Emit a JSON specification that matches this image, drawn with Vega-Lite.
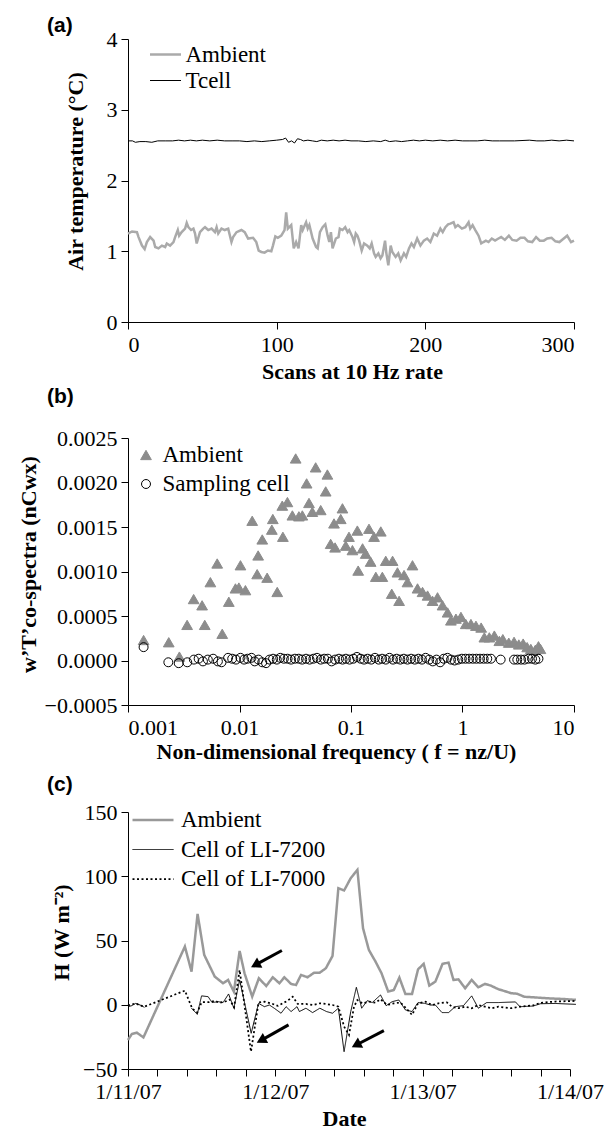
{
  "$schema": "https://vega.github.io/schema/vega-lite/v6.json",
  "padding": {"left": 16, "top": 14, "right": 5, "bottom": 0},
  "spacing": 4,
  "resolve": {
    "scale": {"color": "independent", "strokeWidth": "independent", "strokeDash": "independent", "shape": "independent", "fill": "independent", "stroke": "independent", "size": "independent"},
    "legend": {"color": "independent", "strokeWidth": "independent", "strokeDash": "independent", "shape": "independent", "fill": "independent", "stroke": "independent", "size": "independent"}
  },
  "config": {
    "view": {"stroke": null},
    "font": "Liberation Serif",
    "axis": {
      "grid": false, "domainColor": "#000", "tickColor": "#000", "labelColor": "#000", "titleColor": "#000",
      "labelFont": "Liberation Serif", "labelFontSize": 22, "titleFont": "Liberation Serif", "titleFontSize": 22,
      "titleFontWeight": "bold", "tickSize": 7, "labelPadding": 4, "domainWidth": 1, "tickWidth": 1
    },
    "axisX": {"labelPadding": 5},
    "legend": {"labelFont": "Liberation Serif", "labelFontSize": 23, "labelColor": "#000", "padding": 0},
    "title": {"font": "Liberation Sans", "fontSize": 21, "fontWeight": "bold", "anchor": "start", "color": "#000", "frame": "group"}
  },
  "vconcat": [
    {
      "width": 446, "height": 283,
      "title": {"text": "(a)", "dx": -81, "offset": -7.5},
      "data": {"values": [
        {"scan": 0, "temp": 1.25, "series": "Ambient"}, {"scan": 2.7, "temp": 1.28, "series": "Ambient"}, {"scan": 6, "temp": 1.27, "series": "Ambient"}, {"scan": 7.1, "temp": 1.2, "series": "Ambient"}, {"scan": 9.4, "temp": 1.08, "series": "Ambient"}, {"scan": 11.2, "temp": 1.03, "series": "Ambient"}, {"scan": 12.7, "temp": 1.13, "series": "Ambient"}, {"scan": 14.9, "temp": 1.2, "series": "Ambient"}, {"scan": 17.2, "temp": 1.15, "series": "Ambient"}, {"scan": 18.3, "temp": 1.06, "series": "Ambient"}, {"scan": 20.5, "temp": 1.04, "series": "Ambient"}, {"scan": 22.8, "temp": 1.08, "series": "Ambient"}, {"scan": 25, "temp": 1.06, "series": "Ambient"}, {"scan": 26.1, "temp": 1.11, "series": "Ambient"}, {"scan": 28.3, "temp": 1.08, "series": "Ambient"}, {"scan": 30.6, "temp": 1.13, "series": "Ambient"}, {"scan": 31.7, "temp": 1.2, "series": "Ambient"}, {"scan": 33.5, "temp": 1.3, "series": "Ambient"}, {"scan": 34.4, "temp": 1.22, "series": "Ambient"}, {"scan": 36.1, "temp": 1.27, "series": "Ambient"}, {"scan": 38.4, "temp": 1.32, "series": "Ambient"}, {"scan": 39.5, "temp": 1.4, "series": "Ambient"}, {"scan": 40.6, "temp": 1.34, "series": "Ambient"}, {"scan": 42.4, "temp": 1.3, "series": "Ambient"}, {"scan": 44, "temp": 1.32, "series": "Ambient"}, {"scan": 45.1, "temp": 1.25, "series": "Ambient"}, {"scan": 46.2, "temp": 1.11, "series": "Ambient"}, {"scan": 48.4, "temp": 1.27, "series": "Ambient"}, {"scan": 50.6, "temp": 1.32, "series": "Ambient"}, {"scan": 51.8, "temp": 1.34, "series": "Ambient"}, {"scan": 54, "temp": 1.3, "series": "Ambient"}, {"scan": 56.2, "temp": 1.32, "series": "Ambient"}, {"scan": 58.5, "temp": 1.27, "series": "Ambient"}, {"scan": 59.6, "temp": 1.34, "series": "Ambient"}, {"scan": 60.7, "temp": 1.25, "series": "Ambient"}, {"scan": 62.9, "temp": 1.32, "series": "Ambient"}, {"scan": 65.1, "temp": 1.3, "series": "Ambient"}, {"scan": 67.4, "temp": 1.32, "series": "Ambient"}, {"scan": 69.6, "temp": 1.13, "series": "Ambient"}, {"scan": 70.7, "temp": 1.2, "series": "Ambient"}, {"scan": 73, "temp": 1.27, "series": "Ambient"}, {"scan": 76.3, "temp": 1.3, "series": "Ambient"}, {"scan": 78.5, "temp": 1.27, "series": "Ambient"}, {"scan": 80.8, "temp": 1.18, "series": "Ambient"}, {"scan": 84.1, "temp": 1.19, "series": "Ambient"}, {"scan": 86.3, "temp": 1.13, "series": "Ambient"}, {"scan": 87.9, "temp": 1.01, "series": "Ambient"}, {"scan": 89.7, "temp": 0.99, "series": "Ambient"}, {"scan": 91.9, "temp": 0.98, "series": "Ambient"}, {"scan": 94.1, "temp": 1.01, "series": "Ambient"}, {"scan": 96.4, "temp": 1.0, "series": "Ambient"}, {"scan": 97.5, "temp": 1.08, "series": "Ambient"}, {"scan": 99.1, "temp": 1.21, "series": "Ambient"}, {"scan": 100.8, "temp": 1.19, "series": "Ambient"}, {"scan": 103.1, "temp": 1.22, "series": "Ambient"}, {"scan": 105.3, "temp": 1.3, "series": "Ambient"}, {"scan": 106.4, "temp": 1.55, "series": "Ambient"}, {"scan": 107.5, "temp": 1.32, "series": "Ambient"}, {"scan": 109.8, "temp": 1.37, "series": "Ambient"}, {"scan": 111.5, "temp": 1.04, "series": "Ambient"}, {"scan": 113.1, "temp": 1.13, "series": "Ambient"}, {"scan": 114.7, "temp": 1.04, "series": "Ambient"}, {"scan": 116.5, "temp": 1.37, "series": "Ambient"}, {"scan": 117.5, "temp": 1.3, "series": "Ambient"}, {"scan": 119.8, "temp": 1.41, "series": "Ambient"}, {"scan": 120.9, "temp": 1.32, "series": "Ambient"}, {"scan": 122, "temp": 1.37, "series": "Ambient"}, {"scan": 124.2, "temp": 1.18, "series": "Ambient"}, {"scan": 126.5, "temp": 1.06, "series": "Ambient"}, {"scan": 127.6, "temp": 1.04, "series": "Ambient"}, {"scan": 129.1, "temp": 1.27, "series": "Ambient"}, {"scan": 130.9, "temp": 1.34, "series": "Ambient"}, {"scan": 132.7, "temp": 1.38, "series": "Ambient"}, {"scan": 134.3, "temp": 1.22, "series": "Ambient"}, {"scan": 135.4, "temp": 1.13, "series": "Ambient"}, {"scan": 136.5, "temp": 1.27, "series": "Ambient"}, {"scan": 137.6, "temp": 1.04, "series": "Ambient"}, {"scan": 139.8, "temp": 1.18, "series": "Ambient"}, {"scan": 141.6, "temp": 1.2, "series": "Ambient"}, {"scan": 142.5, "temp": 1.32, "series": "Ambient"}, {"scan": 144.3, "temp": 1.3, "series": "Ambient"}, {"scan": 146.1, "temp": 1.34, "series": "Ambient"}, {"scan": 147.7, "temp": 1.27, "series": "Ambient"}, {"scan": 148.8, "temp": 1.3, "series": "Ambient"}, {"scan": 151, "temp": 1.2, "series": "Ambient"}, {"scan": 152.1, "temp": 1.13, "series": "Ambient"}, {"scan": 153.2, "temp": 1.25, "series": "Ambient"}, {"scan": 154.3, "temp": 1.22, "series": "Ambient"}, {"scan": 155.5, "temp": 1.15, "series": "Ambient"}, {"scan": 157.2, "temp": 1.01, "series": "Ambient"}, {"scan": 158.8, "temp": 1.11, "series": "Ambient"}, {"scan": 161, "temp": 1.08, "series": "Ambient"}, {"scan": 162.6, "temp": 1.04, "series": "Ambient"}, {"scan": 163.9, "temp": 1.11, "series": "Ambient"}, {"scan": 165.5, "temp": 0.97, "series": "Ambient"}, {"scan": 166.6, "temp": 0.92, "series": "Ambient"}, {"scan": 168.4, "temp": 0.97, "series": "Ambient"}, {"scan": 169.9, "temp": 0.9, "series": "Ambient"}, {"scan": 171.1, "temp": 0.94, "series": "Ambient"}, {"scan": 172.9, "temp": 1.15, "series": "Ambient"}, {"scan": 173.8, "temp": 0.97, "series": "Ambient"}, {"scan": 175.1, "temp": 0.8, "series": "Ambient"}, {"scan": 176.7, "temp": 1.08, "series": "Ambient"}, {"scan": 177.8, "temp": 0.99, "series": "Ambient"}, {"scan": 180, "temp": 0.92, "series": "Ambient"}, {"scan": 181.8, "temp": 0.97, "series": "Ambient"}, {"scan": 183.4, "temp": 0.87, "series": "Ambient"}, {"scan": 185.6, "temp": 0.97, "series": "Ambient"}, {"scan": 187.1, "temp": 0.92, "series": "Ambient"}, {"scan": 189, "temp": 1.04, "series": "Ambient"}, {"scan": 190.7, "temp": 1.11, "series": "Ambient"}, {"scan": 192.3, "temp": 1.06, "series": "Ambient"}, {"scan": 194.5, "temp": 1.18, "series": "Ambient"}, {"scan": 196.7, "temp": 1.08, "series": "Ambient"}, {"scan": 199, "temp": 1.15, "series": "Ambient"}, {"scan": 201.2, "temp": 1.18, "series": "Ambient"}, {"scan": 203.4, "temp": 1.13, "series": "Ambient"}, {"scan": 205.7, "temp": 1.25, "series": "Ambient"}, {"scan": 207.9, "temp": 1.22, "series": "Ambient"}, {"scan": 210.1, "temp": 1.32, "series": "Ambient"}, {"scan": 211.7, "temp": 1.27, "series": "Ambient"}, {"scan": 213.5, "temp": 1.34, "series": "Ambient"}, {"scan": 215.3, "temp": 1.38, "series": "Ambient"}, {"scan": 216.8, "temp": 1.39, "series": "Ambient"}, {"scan": 219, "temp": 1.41, "series": "Ambient"}, {"scan": 220.2, "temp": 1.34, "series": "Ambient"}, {"scan": 221.9, "temp": 1.37, "series": "Ambient"}, {"scan": 224.6, "temp": 1.32, "series": "Ambient"}, {"scan": 226.9, "temp": 1.34, "series": "Ambient"}, {"scan": 229.1, "temp": 1.41, "series": "Ambient"}, {"scan": 230.2, "temp": 1.32, "series": "Ambient"}, {"scan": 231.8, "temp": 1.37, "series": "Ambient"}, {"scan": 233.6, "temp": 1.3, "series": "Ambient"}, {"scan": 235.8, "temp": 1.22, "series": "Ambient"}, {"scan": 237.6, "temp": 1.11, "series": "Ambient"}, {"scan": 239.1, "temp": 1.13, "series": "Ambient"}, {"scan": 240.7, "temp": 1.15, "series": "Ambient"}, {"scan": 242.5, "temp": 1.13, "series": "Ambient"}, {"scan": 244.7, "temp": 1.18, "series": "Ambient"}, {"scan": 246.9, "temp": 1.15, "series": "Ambient"}, {"scan": 249.2, "temp": 1.18, "series": "Ambient"}, {"scan": 251, "temp": 1.2, "series": "Ambient"}, {"scan": 253.5, "temp": 1.16, "series": "Ambient"}, {"scan": 256.2, "temp": 1.22, "series": "Ambient"}, {"scan": 258.5, "temp": 1.16, "series": "Ambient"}, {"scan": 261.4, "temp": 1.15, "series": "Ambient"}, {"scan": 264, "temp": 1.19, "series": "Ambient"}, {"scan": 266.7, "temp": 1.19, "series": "Ambient"}, {"scan": 269, "temp": 1.14, "series": "Ambient"}, {"scan": 271.9, "temp": 1.13, "series": "Ambient"}, {"scan": 274.5, "temp": 1.2, "series": "Ambient"}, {"scan": 277, "temp": 1.15, "series": "Ambient"}, {"scan": 279.7, "temp": 1.15, "series": "Ambient"}, {"scan": 282, "temp": 1.18, "series": "Ambient"}, {"scan": 284.9, "temp": 1.19, "series": "Ambient"}, {"scan": 287.5, "temp": 1.14, "series": "Ambient"}, {"scan": 290.2, "temp": 1.13, "series": "Ambient"}, {"scan": 292.5, "temp": 1.17, "series": "Ambient"}, {"scan": 295.4, "temp": 1.22, "series": "Ambient"}, {"scan": 298, "temp": 1.13, "series": "Ambient"}, {"scan": 300, "temp": 1.15, "series": "Ambient"},
        {"scan": 0, "temp": 2.56, "series": "Tcell"}, {"scan": 3, "temp": 2.56, "series": "Tcell"}, {"scan": 5, "temp": 2.54, "series": "Tcell"}, {"scan": 8, "temp": 2.55, "series": "Tcell"}, {"scan": 12, "temp": 2.55, "series": "Tcell"}, {"scan": 16, "temp": 2.54, "series": "Tcell"}, {"scan": 20, "temp": 2.56, "series": "Tcell"}, {"scan": 25, "temp": 2.56, "series": "Tcell"}, {"scan": 30, "temp": 2.56, "series": "Tcell"}, {"scan": 34, "temp": 2.57, "series": "Tcell"}, {"scan": 38, "temp": 2.56, "series": "Tcell"}, {"scan": 42, "temp": 2.57, "series": "Tcell"}, {"scan": 46, "temp": 2.56, "series": "Tcell"}, {"scan": 50, "temp": 2.57, "series": "Tcell"}, {"scan": 55, "temp": 2.56, "series": "Tcell"}, {"scan": 60, "temp": 2.57, "series": "Tcell"}, {"scan": 65, "temp": 2.56, "series": "Tcell"}, {"scan": 70, "temp": 2.56, "series": "Tcell"}, {"scan": 75, "temp": 2.56, "series": "Tcell"}, {"scan": 80, "temp": 2.55, "series": "Tcell"}, {"scan": 85, "temp": 2.56, "series": "Tcell"}, {"scan": 90, "temp": 2.55, "series": "Tcell"}, {"scan": 95, "temp": 2.56, "series": "Tcell"}, {"scan": 100, "temp": 2.57, "series": "Tcell"}, {"scan": 104, "temp": 2.58, "series": "Tcell"}, {"scan": 106, "temp": 2.6, "series": "Tcell"}, {"scan": 108, "temp": 2.54, "series": "Tcell"}, {"scan": 110, "temp": 2.56, "series": "Tcell"}, {"scan": 112, "temp": 2.53, "series": "Tcell"}, {"scan": 114, "temp": 2.59, "series": "Tcell"}, {"scan": 116, "temp": 2.58, "series": "Tcell"}, {"scan": 118, "temp": 2.56, "series": "Tcell"}, {"scan": 121, "temp": 2.57, "series": "Tcell"}, {"scan": 124, "temp": 2.56, "series": "Tcell"}, {"scan": 127, "temp": 2.55, "series": "Tcell"}, {"scan": 130, "temp": 2.57, "series": "Tcell"}, {"scan": 134, "temp": 2.56, "series": "Tcell"}, {"scan": 138, "temp": 2.57, "series": "Tcell"}, {"scan": 142, "temp": 2.56, "series": "Tcell"}, {"scan": 146, "temp": 2.57, "series": "Tcell"}, {"scan": 150, "temp": 2.56, "series": "Tcell"}, {"scan": 155, "temp": 2.56, "series": "Tcell"}, {"scan": 160, "temp": 2.55, "series": "Tcell"}, {"scan": 165, "temp": 2.56, "series": "Tcell"}, {"scan": 170, "temp": 2.55, "series": "Tcell"}, {"scan": 173, "temp": 2.57, "series": "Tcell"}, {"scan": 176, "temp": 2.55, "series": "Tcell"}, {"scan": 180, "temp": 2.56, "series": "Tcell"}, {"scan": 184, "temp": 2.55, "series": "Tcell"}, {"scan": 188, "temp": 2.56, "series": "Tcell"}, {"scan": 192, "temp": 2.57, "series": "Tcell"}, {"scan": 196, "temp": 2.56, "series": "Tcell"}, {"scan": 200, "temp": 2.57, "series": "Tcell"}, {"scan": 205, "temp": 2.56, "series": "Tcell"}, {"scan": 210, "temp": 2.57, "series": "Tcell"}, {"scan": 215, "temp": 2.56, "series": "Tcell"}, {"scan": 220, "temp": 2.57, "series": "Tcell"}, {"scan": 225, "temp": 2.56, "series": "Tcell"}, {"scan": 230, "temp": 2.56, "series": "Tcell"}, {"scan": 235, "temp": 2.56, "series": "Tcell"}, {"scan": 240, "temp": 2.57, "series": "Tcell"}, {"scan": 245, "temp": 2.56, "series": "Tcell"}, {"scan": 250, "temp": 2.56, "series": "Tcell"}, {"scan": 260, "temp": 2.56, "series": "Tcell"}, {"scan": 270, "temp": 2.57, "series": "Tcell"}, {"scan": 275, "temp": 2.56, "series": "Tcell"}, {"scan": 280, "temp": 2.56, "series": "Tcell"}, {"scan": 285, "temp": 2.57, "series": "Tcell"}, {"scan": 290, "temp": 2.56, "series": "Tcell"}, {"scan": 295, "temp": 2.57, "series": "Tcell"}, {"scan": 300, "temp": 2.56, "series": "Tcell"}
      ]},
      "mark": {"type": "line"},
      "encoding": {
        "x": {"field": "scan", "type": "quantitative", "scale": {"domain": [0, 300], "nice": false},
              "axis": {"values": [0, 100, 200, 300], "title": "Scans at 10 Hz rate", "titleX": 224, "titleY": 56, "titleBaseline": "alphabetic"}},
        "y": {"field": "temp", "type": "quantitative", "scale": {"domain": [0, 4], "nice": false},
              "axis": {"values": [0, 1, 2, 3, 4], "title": "Air temperature (°C)", "titleX": -46, "titleY": 132, "titleBaseline": "alphabetic"}},
        "color": {"field": "series", "type": "nominal", "scale": {"domain": ["Ambient", "Tcell"], "range": ["#aaaaaa", "#000000"]},
                  "legend": {"title": null, "orient": "none", "legendX": 20.5, "legendY": 4.5, "symbolSize": 961, "clipHeight": 22, "rowPadding": 3, "labelOffset": 3}},
        "strokeWidth": {"field": "series", "type": "nominal", "scale": {"domain": ["Ambient", "Tcell"], "range": [2.5, 1]},
                  "legend": {"title": null, "orient": "none", "legendX": 20.5, "legendY": 4.5, "symbolSize": 961, "clipHeight": 22, "rowPadding": 3, "labelOffset": 3}}
      }
    },
    {
      "width": 446, "height": 267,
      "title": {"text": "(b)", "dx": -81, "offset": 20},
      "data": {"values": [
        {"f": 0.00138, "cosp": 0.00023, "series": "Ambient"}, {"f": 0.00232, "cosp": 0.000205, "series": "Ambient"}, {"f": 0.00289, "cosp": 0.000044, "series": "Ambient"}, {"f": 0.00339, "cosp": 0.0004, "series": "Ambient"}, {"f": 0.00388, "cosp": 0.00069, "series": "Ambient"}, {"f": 0.00462, "cosp": 0.00062, "series": "Ambient"}, {"f": 0.00488, "cosp": 0.0004, "series": "Ambient"}, {"f": 0.00548, "cosp": 0.00088, "series": "Ambient"}, {"f": 0.00631, "cosp": 0.00109, "series": "Ambient"}, {"f": 0.007, "cosp": 0.0003, "series": "Ambient"}, {"f": 0.00802, "cosp": 0.00066, "series": "Ambient"}, {"f": 0.0092, "cosp": 0.00081, "series": "Ambient"}, {"f": 0.00987, "cosp": 0.00082, "series": "Ambient"}, {"f": 0.0102, "cosp": 0.00107, "series": "Ambient"}, {"f": 0.0113, "cosp": 0.00079, "series": "Ambient"}, {"f": 0.013, "cosp": 0.00157, "series": "Ambient"}, {"f": 0.0144, "cosp": 0.00097, "series": "Ambient"}, {"f": 0.0147, "cosp": 0.00118, "series": "Ambient"}, {"f": 0.016, "cosp": 0.00136, "series": "Ambient"}, {"f": 0.0177, "cosp": 0.00093, "series": "Ambient"}, {"f": 0.0195, "cosp": 0.00147, "series": "Ambient"}, {"f": 0.0199, "cosp": 0.00159, "series": "Ambient"}, {"f": 0.0218, "cosp": 0.00077, "series": "Ambient"}, {"f": 0.0242, "cosp": 0.00174, "series": "Ambient"}, {"f": 0.0245, "cosp": 0.00139, "series": "Ambient"}, {"f": 0.0269, "cosp": 0.00178, "series": "Ambient"}, {"f": 0.0298, "cosp": 0.00163, "series": "Ambient"}, {"f": 0.0319, "cosp": 0.00227, "series": "Ambient"}, {"f": 0.0341, "cosp": 0.00162, "series": "Ambient"}, {"f": 0.0366, "cosp": 0.00163, "series": "Ambient"}, {"f": 0.04, "cosp": 0.00199, "series": "Ambient"}, {"f": 0.042, "cosp": 0.00177, "series": "Ambient"}, {"f": 0.045, "cosp": 0.00167, "series": "Ambient"}, {"f": 0.0482, "cosp": 0.00217, "series": "Ambient"}, {"f": 0.0535, "cosp": 0.00169, "series": "Ambient"}, {"f": 0.0593, "cosp": 0.0019, "series": "Ambient"}, {"f": 0.0614, "cosp": 0.00209, "series": "Ambient"}, {"f": 0.0657, "cosp": 0.00131, "series": "Ambient"}, {"f": 0.0704, "cosp": 0.00154, "series": "Ambient"}, {"f": 0.072, "cosp": 0.00127, "series": "Ambient"}, {"f": 0.0809, "cosp": 0.00159, "series": "Ambient"}, {"f": 0.0838, "cosp": 0.00171, "series": "Ambient"}, {"f": 0.0897, "cosp": 0.00129, "series": "Ambient"}, {"f": 0.0959, "cosp": 0.00139, "series": "Ambient"}, {"f": 0.103, "cosp": 0.00124, "series": "Ambient"}, {"f": 0.114, "cosp": 0.00146, "series": "Ambient"}, {"f": 0.116, "cosp": 0.00101, "series": "Ambient"}, {"f": 0.127, "cosp": 0.00126, "series": "Ambient"}, {"f": 0.1355, "cosp": 0.0012, "series": "Ambient"}, {"f": 0.145, "cosp": 0.00148, "series": "Ambient"}, {"f": 0.15, "cosp": 0.00111, "series": "Ambient"}, {"f": 0.161, "cosp": 0.00139, "series": "Ambient"}, {"f": 0.167, "cosp": 0.00094, "series": "Ambient"}, {"f": 0.185, "cosp": 0.00145, "series": "Ambient"}, {"f": 0.191, "cosp": 0.00094, "series": "Ambient"}, {"f": 0.205, "cosp": 0.00112, "series": "Ambient"}, {"f": 0.232, "cosp": 0.00075, "series": "Ambient"}, {"f": 0.236, "cosp": 0.00112, "series": "Ambient"}, {"f": 0.261, "cosp": 0.00099, "series": "Ambient"}, {"f": 0.27, "cosp": 0.00067, "series": "Ambient"}, {"f": 0.299, "cosp": 0.00096, "series": "Ambient"}, {"f": 0.321, "cosp": 0.00088, "series": "Ambient"}, {"f": 0.356, "cosp": 0.00107, "series": "Ambient"}, {"f": 0.395, "cosp": 0.00081, "series": "Ambient"}, {"f": 0.438, "cosp": 0.00077, "series": "Ambient"}, {"f": 0.486, "cosp": 0.00073, "series": "Ambient"}, {"f": 0.539, "cosp": 0.00067, "series": "Ambient"}, {"f": 0.597, "cosp": 0.00071, "series": "Ambient"}, {"f": 0.662, "cosp": 0.00062, "series": "Ambient"}, {"f": 0.735, "cosp": 0.00054, "series": "Ambient"}, {"f": 0.787, "cosp": 0.00045, "series": "Ambient"}, {"f": 0.873, "cosp": 0.00047, "series": "Ambient"}, {"f": 0.968, "cosp": 0.00049, "series": "Ambient"}, {"f": 1.07, "cosp": 0.00041, "series": "Ambient"}, {"f": 1.19, "cosp": 0.00041, "series": "Ambient"}, {"f": 1.32, "cosp": 0.00039, "series": "Ambient"}, {"f": 1.47, "cosp": 0.00037, "series": "Ambient"}, {"f": 1.57, "cosp": 0.00026, "series": "Ambient"}, {"f": 1.74, "cosp": 0.00026, "series": "Ambient"}, {"f": 1.93, "cosp": 0.00028, "series": "Ambient"}, {"f": 2.14, "cosp": 0.00022, "series": "Ambient"}, {"f": 2.3, "cosp": 0.00024, "series": "Ambient"}, {"f": 2.6, "cosp": 0.0002, "series": "Ambient"}, {"f": 2.9, "cosp": 0.00021, "series": "Ambient"}, {"f": 3.2, "cosp": 0.00018, "series": "Ambient"}, {"f": 3.5, "cosp": 0.00019, "series": "Ambient"}, {"f": 3.8, "cosp": 0.00015, "series": "Ambient"}, {"f": 4.1, "cosp": 0.00013, "series": "Ambient"}, {"f": 4.5, "cosp": 0.00012, "series": "Ambient"}, {"f": 4.8, "cosp": 0.00016, "series": "Ambient"}, {"f": 5.0, "cosp": 0.00013, "series": "Ambient"},
        {"f": 0.00138, "cosp": 0.00015, "series": "Sampling cell"}, {"f": 0.0023, "cosp": -0.00002, "series": "Sampling cell"}, {"f": 0.00285, "cosp": -0.00003, "series": "Sampling cell"}, {"f": 0.0034, "cosp": -0.00002, "series": "Sampling cell"}, {"f": 0.0039, "cosp": 0.00001, "series": "Sampling cell"}, {"f": 0.0043, "cosp": 0.00002, "series": "Sampling cell"}, {"f": 0.0047, "cosp": -0.00001, "series": "Sampling cell"}, {"f": 0.0052, "cosp": 0.00001, "series": "Sampling cell"}, {"f": 0.0058, "cosp": 0.00002, "series": "Sampling cell"}, {"f": 0.0064, "cosp": -0.00001, "series": "Sampling cell"}, {"f": 0.0069, "cosp": -0.00002, "series": "Sampling cell"}, {"f": 0.0079, "cosp": 0.00003, "series": "Sampling cell"}, {"f": 0.0086, "cosp": 0.00002, "series": "Sampling cell"}, {"f": 0.0093, "cosp": 0.00001, "series": "Sampling cell"}, {"f": 0.0102, "cosp": 0.00003, "series": "Sampling cell"}, {"f": 0.011, "cosp": 0.00001, "series": "Sampling cell"}, {"f": 0.0118, "cosp": 0.00002, "series": "Sampling cell"}, {"f": 0.0128, "cosp": 0.00003, "series": "Sampling cell"}, {"f": 0.0137, "cosp": -0.00001, "series": "Sampling cell"}, {"f": 0.0148, "cosp": 0.00001, "series": "Sampling cell"}, {"f": 0.016, "cosp": -0.00002, "series": "Sampling cell"}, {"f": 0.0173, "cosp": -0.00003, "series": "Sampling cell"}, {"f": 0.0186, "cosp": 0.00001, "series": "Sampling cell"}, {"f": 0.02, "cosp": 0.00002, "series": "Sampling cell"}, {"f": 0.0216, "cosp": 0.00001, "series": "Sampling cell"}, {"f": 0.0232, "cosp": 0.00003, "series": "Sampling cell"}, {"f": 0.025, "cosp": 0.00002, "series": "Sampling cell"}, {"f": 0.027, "cosp": 0.00002, "series": "Sampling cell"}, {"f": 0.029, "cosp": 0.00001, "series": "Sampling cell"}, {"f": 0.0314, "cosp": 0.00002, "series": "Sampling cell"}, {"f": 0.034, "cosp": 0.00002, "series": "Sampling cell"}, {"f": 0.0365, "cosp": 0.00001, "series": "Sampling cell"}, {"f": 0.0395, "cosp": 0.00002, "series": "Sampling cell"}, {"f": 0.0425, "cosp": 0.00001, "series": "Sampling cell"}, {"f": 0.046, "cosp": 0.00002, "series": "Sampling cell"}, {"f": 0.0495, "cosp": 0.00003, "series": "Sampling cell"}, {"f": 0.0535, "cosp": 0.00001, "series": "Sampling cell"}, {"f": 0.0575, "cosp": 0.00002, "series": "Sampling cell"}, {"f": 0.062, "cosp": 0.00002, "series": "Sampling cell"}, {"f": 0.067, "cosp": -0.00001, "series": "Sampling cell"}, {"f": 0.072, "cosp": 0.00001, "series": "Sampling cell"}, {"f": 0.078, "cosp": 0.00002, "series": "Sampling cell"}, {"f": 0.084, "cosp": 0.00001, "series": "Sampling cell"}, {"f": 0.09, "cosp": 0.00002, "series": "Sampling cell"}, {"f": 0.097, "cosp": 0.00001, "series": "Sampling cell"}, {"f": 0.105, "cosp": 0.00002, "series": "Sampling cell"}, {"f": 0.113, "cosp": 0.00004, "series": "Sampling cell"}, {"f": 0.122, "cosp": 0.00002, "series": "Sampling cell"}, {"f": 0.131, "cosp": 0.00001, "series": "Sampling cell"}, {"f": 0.141, "cosp": 0.00002, "series": "Sampling cell"}, {"f": 0.152, "cosp": 0.00001, "series": "Sampling cell"}, {"f": 0.164, "cosp": 0.00003, "series": "Sampling cell"}, {"f": 0.177, "cosp": 0.00001, "series": "Sampling cell"}, {"f": 0.19, "cosp": 0.00002, "series": "Sampling cell"}, {"f": 0.205, "cosp": 0.00001, "series": "Sampling cell"}, {"f": 0.221, "cosp": 0.00003, "series": "Sampling cell"}, {"f": 0.238, "cosp": 0.00001, "series": "Sampling cell"}, {"f": 0.257, "cosp": 0.00002, "series": "Sampling cell"}, {"f": 0.277, "cosp": 0.00001, "series": "Sampling cell"}, {"f": 0.298, "cosp": 0.00002, "series": "Sampling cell"}, {"f": 0.321, "cosp": 0.00001, "series": "Sampling cell"}, {"f": 0.346, "cosp": 0.00002, "series": "Sampling cell"}, {"f": 0.373, "cosp": 0.00001, "series": "Sampling cell"}, {"f": 0.402, "cosp": 0.00002, "series": "Sampling cell"}, {"f": 0.433, "cosp": 0.00001, "series": "Sampling cell"}, {"f": 0.467, "cosp": 0.00003, "series": "Sampling cell"}, {"f": 0.503, "cosp": 0.00001, "series": "Sampling cell"}, {"f": 0.542, "cosp": -0.00001, "series": "Sampling cell"}, {"f": 0.584, "cosp": 0.00001, "series": "Sampling cell"}, {"f": 0.63, "cosp": -0.00002, "series": "Sampling cell"}, {"f": 0.679, "cosp": 0.00002, "series": "Sampling cell"}, {"f": 0.732, "cosp": 0.00003, "series": "Sampling cell"}, {"f": 0.789, "cosp": 0.00001, "series": "Sampling cell"}, {"f": 0.85, "cosp": 0.0, "series": "Sampling cell"}, {"f": 0.916, "cosp": 0.00001, "series": "Sampling cell"}, {"f": 0.987, "cosp": 0.00002, "series": "Sampling cell"}, {"f": 1.064, "cosp": 0.00002, "series": "Sampling cell"}, {"f": 1.147, "cosp": 0.00002, "series": "Sampling cell"}, {"f": 1.236, "cosp": 0.00002, "series": "Sampling cell"}, {"f": 1.332, "cosp": 0.00002, "series": "Sampling cell"}, {"f": 1.436, "cosp": 0.00002, "series": "Sampling cell"}, {"f": 1.548, "cosp": 0.00002, "series": "Sampling cell"}, {"f": 1.668, "cosp": 0.00002, "series": "Sampling cell"}, {"f": 1.8, "cosp": 0.00002, "series": "Sampling cell"}, {"f": 2.2, "cosp": 0.00001, "series": "Sampling cell"}, {"f": 2.9, "cosp": 0.00001, "series": "Sampling cell"}, {"f": 3.1, "cosp": 0.00001, "series": "Sampling cell"}, {"f": 3.35, "cosp": 0.00001, "series": "Sampling cell"}, {"f": 3.6, "cosp": 0.00001, "series": "Sampling cell"}, {"f": 3.9, "cosp": 0.00002, "series": "Sampling cell"}, {"f": 4.2, "cosp": 0.00002, "series": "Sampling cell"}, {"f": 4.5, "cosp": 0.00001, "series": "Sampling cell"}, {"f": 4.8, "cosp": 0.00002, "series": "Sampling cell"}
      ]},
      "mark": {"type": "point", "strokeWidth": 1, "opacity": 1},
      "encoding": {
        "x": {"field": "f", "type": "quantitative", "scale": {"type": "log", "domain": [0.001, 10], "nice": false},
              "axis": {"values": [0.001, 0.01, 0.1, 1, 10], "format": "~g", "title": "Non-dimensional frequency ( f = nz/U)", "titleX": 208, "titleY": 53, "titleBaseline": "alphabetic"}},
        "y": {"field": "cosp", "type": "quantitative", "scale": {"domain": [-0.0005, 0.0025], "nice": false, "zero": false},
              "axis": {"values": [-0.0005, 0, 0.0005, 0.001, 0.0015, 0.002, 0.0025], "format": ".4f", "title": "w’T’co-spectra (nCwx)", "titleX": -93, "titleY": 126, "titleBaseline": "alphabetic"}},
        "shape": {"field": "series", "type": "nominal", "scale": {"domain": ["Ambient", "Sampling cell"], "range": ["triangle-up", "circle"]},
                  "legend": {"title": null, "orient": "none", "legendX": 6.5, "legendY": 6, "clipHeight": 22, "rowPadding": 6, "labelOffset": 5, "symbolStrokeWidth": 1}},
        "fill": {"field": "series", "type": "nominal", "scale": {"domain": ["Ambient", "Sampling cell"], "range": ["#8c8c8c", "transparent"]},
                  "legend": {"title": null, "orient": "none", "legendX": 6.5, "legendY": 6, "clipHeight": 22, "rowPadding": 6, "labelOffset": 5, "symbolStrokeWidth": 1}},
        "stroke": {"field": "series", "type": "nominal", "scale": {"domain": ["Ambient", "Sampling cell"], "range": ["#8c8c8c", "#000000"]},
                  "legend": {"title": null, "orient": "none", "legendX": 6.5, "legendY": 6, "clipHeight": 22, "rowPadding": 6, "labelOffset": 5, "symbolStrokeWidth": 1}},
        "size": {"field": "series", "type": "nominal", "scale": {"domain": ["Ambient", "Sampling cell"], "range": [115, 80]},
                  "legend": {"title": null, "orient": "none", "legendX": 6.5, "legendY": 6, "clipHeight": 22, "rowPadding": 6, "labelOffset": 5, "symbolStrokeWidth": 1}}
      }
    },
    {
      "width": 442, "height": 257,
      "title": {"text": [" ", "(c)"], "lineHeight": 8, "dx": -81, "offset": 6},
      "layer": [
        {
          "data": {"values": [
            {"time": "2007-01-11T00:00", "H": -27.4, "series": "Ambient"}, {"time": "2007-01-11T00:37", "H": -22.8, "series": "Ambient"}, {"time": "2007-01-11T01:26", "H": -21.7, "series": "Ambient"}, {"time": "2007-01-11T02:31", "H": -25.4, "series": "Ambient"}, {"time": "2007-01-11T09:16", "H": 45.3, "series": "Ambient"}, {"time": "2007-01-11T10:21", "H": 25.8, "series": "Ambient"}, {"time": "2007-01-11T11:20", "H": 70.7, "series": "Ambient"}, {"time": "2007-01-11T12:25", "H": 38.8, "series": "Ambient"}, {"time": "2007-01-11T14:08", "H": 21.9, "series": "Ambient"}, {"time": "2007-01-11T15:29", "H": 16.7, "series": "Ambient"}, {"time": "2007-01-11T16:18", "H": 19.3, "series": "Ambient"}, {"time": "2007-01-11T17:15", "H": 10.2, "series": "Ambient"}, {"time": "2007-01-11T18:11", "H": 41.9, "series": "Ambient"}, {"time": "2007-01-11T18:59", "H": 24.5, "series": "Ambient"}, {"time": "2007-01-11T20:14", "H": 6.3, "series": "Ambient"}, {"time": "2007-01-11T21:19", "H": 20.6, "series": "Ambient"}, {"time": "2007-01-11T22:31", "H": 14.6, "series": "Ambient"}, {"time": "2007-01-11T23:35", "H": 21.4, "series": "Ambient"}, {"time": "2007-01-12T00:40", "H": 16.7, "series": "Ambient"}, {"time": "2007-01-12T01:28", "H": 21.4, "series": "Ambient"}, {"time": "2007-01-12T02:34", "H": 16.2, "series": "Ambient"}, {"time": "2007-01-12T03:22", "H": 15.4, "series": "Ambient"}, {"time": "2007-01-12T04:11", "H": 23.2, "series": "Ambient"}, {"time": "2007-01-12T05:15", "H": 21.4, "series": "Ambient"}, {"time": "2007-01-12T06:20", "H": 25.0, "series": "Ambient"}, {"time": "2007-01-12T07:15", "H": 25.0, "series": "Ambient"}, {"time": "2007-01-12T08:14", "H": 28.4, "series": "Ambient"}, {"time": "2007-01-12T09:19", "H": 38.0, "series": "Ambient"}, {"time": "2007-01-12T10:16", "H": 90.7, "series": "Ambient"}, {"time": "2007-01-12T11:12", "H": 88.9, "series": "Ambient"}, {"time": "2007-01-12T12:17", "H": 98.5, "series": "Ambient"}, {"time": "2007-01-12T13:22", "H": 105.0, "series": "Ambient"}, {"time": "2007-01-12T14:17", "H": 59.6, "series": "Ambient"}, {"time": "2007-01-12T15:14", "H": 42.7, "series": "Ambient"}, {"time": "2007-01-12T16:19", "H": 33.6, "series": "Ambient"}, {"time": "2007-01-12T17:18", "H": 24.5, "series": "Ambient"}, {"time": "2007-01-12T18:23", "H": 10.3, "series": "Ambient"}, {"time": "2007-01-12T19:18", "H": 11.5, "series": "Ambient"}, {"time": "2007-01-12T20:12", "H": 21.1, "series": "Ambient"}, {"time": "2007-01-12T21:11", "H": 8.4, "series": "Ambient"}, {"time": "2007-01-12T22:16", "H": 8.4, "series": "Ambient"}, {"time": "2007-01-12T23:15", "H": 27.6, "series": "Ambient"}, {"time": "2007-01-13T00:10", "H": 31.8, "series": "Ambient"}, {"time": "2007-01-13T01:05", "H": 14.9, "series": "Ambient"}, {"time": "2007-01-13T02:04", "H": 18.0, "series": "Ambient"}, {"time": "2007-01-13T03:14", "H": 31.8, "series": "Ambient"}, {"time": "2007-01-13T04:13", "H": 32.8, "series": "Ambient"}, {"time": "2007-01-13T05:01", "H": 19.3, "series": "Ambient"}, {"time": "2007-01-13T05:50", "H": 19.8, "series": "Ambient"}, {"time": "2007-01-13T06:55", "H": 12.8, "series": "Ambient"}, {"time": "2007-01-13T07:59", "H": 19.3, "series": "Ambient"}, {"time": "2007-01-13T09:04", "H": 13.6, "series": "Ambient"}, {"time": "2007-01-13T10:09", "H": 16.2, "series": "Ambient"}, {"time": "2007-01-13T11:02", "H": 15.0, "series": "Ambient"}, {"time": "2007-01-13T12:20", "H": 12.1, "series": "Ambient"}, {"time": "2007-01-13T13:26", "H": 10.5, "series": "Ambient"}, {"time": "2007-01-13T14:24", "H": 9.0, "series": "Ambient"}, {"time": "2007-01-13T15:22", "H": 8.6, "series": "Ambient"}, {"time": "2007-01-13T16:34", "H": 6.2, "series": "Ambient"}, {"time": "2007-01-13T18:00", "H": 5.8, "series": "Ambient"}, {"time": "2007-01-13T20:24", "H": 5.0, "series": "Ambient"}, {"time": "2007-01-13T22:48", "H": 4.5, "series": "Ambient"}, {"time": "2007-01-14T00:58", "H": 3.8, "series": "Ambient"},
            {"time": "2007-01-11T00:00", "H": -1.5, "series": "Cell of LI-7200"}, {"time": "2007-01-11T00:37", "H": -0.7, "series": "Cell of LI-7200"}, {"time": "2007-01-11T01:16", "H": 1.1, "series": "Cell of LI-7200"}, {"time": "2007-01-11T01:58", "H": -0.2, "series": "Cell of LI-7200"}, {"time": "2007-01-11T02:41", "H": -2.0, "series": "Cell of LI-7200"}, {"time": "2007-01-11T06:00", "H": null, "series": "Cell of LI-7200"}, {"time": "2007-01-11T10:19", "H": -2.5, "series": "Cell of LI-7200"}, {"time": "2007-01-11T11:17", "H": -7.5, "series": "Cell of LI-7200"}, {"time": "2007-01-11T11:59", "H": 6.9, "series": "Cell of LI-7200"}, {"time": "2007-01-11T13:03", "H": 6.3, "series": "Cell of LI-7200"}, {"time": "2007-01-11T13:42", "H": 1.7, "series": "Cell of LI-7200"}, {"time": "2007-01-11T14:40", "H": 2.4, "series": "Cell of LI-7200"}, {"time": "2007-01-11T15:29", "H": 1.7, "series": "Cell of LI-7200"}, {"time": "2007-01-11T16:23", "H": 8.4, "series": "Cell of LI-7200"}, {"time": "2007-01-11T17:15", "H": -2.7, "series": "Cell of LI-7200"}, {"time": "2007-01-11T18:11", "H": 19.3, "series": "Cell of LI-7200"}, {"time": "2007-01-11T20:04", "H": -22.2, "series": "Cell of LI-7200"}, {"time": "2007-01-11T21:16", "H": 1.1, "series": "Cell of LI-7200"}, {"time": "2007-01-11T22:13", "H": -1.5, "series": "Cell of LI-7200"}, {"time": "2007-01-11T23:02", "H": -0.2, "series": "Cell of LI-7200"}, {"time": "2007-01-11T23:51", "H": -2.8, "series": "Cell of LI-7200"}, {"time": "2007-01-12T00:56", "H": -6.6, "series": "Cell of LI-7200"}, {"time": "2007-01-12T01:45", "H": -1.5, "series": "Cell of LI-7200"}, {"time": "2007-01-12T02:34", "H": -5.3, "series": "Cell of LI-7200"}, {"time": "2007-01-12T03:32", "H": -1.5, "series": "Cell of LI-7200"}, {"time": "2007-01-12T03:55", "H": -5.3, "series": "Cell of LI-7200"}, {"time": "2007-01-12T04:59", "H": -2.7, "series": "Cell of LI-7200"}, {"time": "2007-01-12T06:04", "H": -6.1, "series": "Cell of LI-7200"}, {"time": "2007-01-12T07:15", "H": -2.7, "series": "Cell of LI-7200"}, {"time": "2007-01-12T08:20", "H": -5.3, "series": "Cell of LI-7200"}, {"time": "2007-01-12T09:19", "H": -6.6, "series": "Cell of LI-7200"}, {"time": "2007-01-12T10:16", "H": -2.7, "series": "Cell of LI-7200"}, {"time": "2007-01-12T11:12", "H": -36.5, "series": "Cell of LI-7200"}, {"time": "2007-01-12T12:17", "H": -5.3, "series": "Cell of LI-7200"}, {"time": "2007-01-12T13:12", "H": 13.6, "series": "Cell of LI-7200"}, {"time": "2007-01-12T14:04", "H": -2.7, "series": "Cell of LI-7200"}, {"time": "2007-01-12T14:59", "H": 3.2, "series": "Cell of LI-7200"}, {"time": "2007-01-12T15:47", "H": 1.7, "series": "Cell of LI-7200"}, {"time": "2007-01-12T17:08", "H": 7.6, "series": "Cell of LI-7200"}, {"time": "2007-01-12T18:03", "H": -0.7, "series": "Cell of LI-7200"}, {"time": "2007-01-12T19:02", "H": 2.4, "series": "Cell of LI-7200"}, {"time": "2007-01-12T20:07", "H": 3.7, "series": "Cell of LI-7200"}, {"time": "2007-01-12T21:11", "H": -4.0, "series": "Cell of LI-7200"}, {"time": "2007-01-12T22:16", "H": -5.3, "series": "Cell of LI-7200"}, {"time": "2007-01-12T23:15", "H": 1.7, "series": "Cell of LI-7200"}, {"time": "2007-01-13T00:19", "H": 1.1, "series": "Cell of LI-7200"}, {"time": "2007-01-13T01:15", "H": -0.2, "series": "Cell of LI-7200"}, {"time": "2007-01-13T02:04", "H": -0.2, "series": "Cell of LI-7200"}, {"time": "2007-01-13T03:09", "H": -6.1, "series": "Cell of LI-7200"}, {"time": "2007-01-13T04:13", "H": -6.1, "series": "Cell of LI-7200"}, {"time": "2007-01-13T05:18", "H": -1.5, "series": "Cell of LI-7200"}, {"time": "2007-01-13T06:39", "H": -0.7, "series": "Cell of LI-7200"}, {"time": "2007-01-13T07:59", "H": 6.9, "series": "Cell of LI-7200"}, {"time": "2007-01-13T09:04", "H": -2.7, "series": "Cell of LI-7200"}, {"time": "2007-01-13T10:26", "H": 1.7, "series": "Cell of LI-7200"}, {"time": "2007-01-13T12:20", "H": 1.7, "series": "Cell of LI-7200"}, {"time": "2007-01-13T15:07", "H": 2.2, "series": "Cell of LI-7200"}, {"time": "2007-01-13T15:50", "H": -1.5, "series": "Cell of LI-7200"}, {"time": "2007-01-13T18:00", "H": -1.0, "series": "Cell of LI-7200"}, {"time": "2007-01-13T19:12", "H": 0.8, "series": "Cell of LI-7200"}, {"time": "2007-01-13T21:36", "H": 1.0, "series": "Cell of LI-7200"}, {"time": "2007-01-14T00:58", "H": 0.3, "series": "Cell of LI-7200"},
            {"time": "2007-01-11T00:00", "H": -0.5, "series": "Cell of LI-7000"}, {"time": "2007-01-11T00:37", "H": 0.3, "series": "Cell of LI-7000"}, {"time": "2007-01-11T01:16", "H": 1.0, "series": "Cell of LI-7000"}, {"time": "2007-01-11T01:58", "H": -0.5, "series": "Cell of LI-7000"}, {"time": "2007-01-11T02:41", "H": -1.5, "series": "Cell of LI-7000"}, {"time": "2007-01-11T09:16", "H": 11.0, "series": "Cell of LI-7000"}, {"time": "2007-01-11T10:28", "H": -3.0, "series": "Cell of LI-7000"}, {"time": "2007-01-11T11:17", "H": -6.0, "series": "Cell of LI-7000"}, {"time": "2007-01-11T12:00", "H": 2.0, "series": "Cell of LI-7000"}, {"time": "2007-01-11T13:12", "H": 2.0, "series": "Cell of LI-7000"}, {"time": "2007-01-11T14:10", "H": 3.0, "series": "Cell of LI-7000"}, {"time": "2007-01-11T14:53", "H": 1.5, "series": "Cell of LI-7000"}, {"time": "2007-01-11T15:50", "H": 2.5, "series": "Cell of LI-7000"}, {"time": "2007-01-11T16:34", "H": 4.0, "series": "Cell of LI-7000"}, {"time": "2007-01-11T17:17", "H": -2.0, "series": "Cell of LI-7000"}, {"time": "2007-01-11T18:11", "H": 27.0, "series": "Cell of LI-7000"}, {"time": "2007-01-11T20:02", "H": -36.5, "series": "Cell of LI-7000"}, {"time": "2007-01-11T21:16", "H": 1.7, "series": "Cell of LI-7000"}, {"time": "2007-01-11T22:13", "H": 2.4, "series": "Cell of LI-7000"}, {"time": "2007-01-11T23:18", "H": 1.1, "series": "Cell of LI-7000"}, {"time": "2007-01-12T00:25", "H": -0.9, "series": "Cell of LI-7000"}, {"time": "2007-01-12T01:12", "H": 1.1, "series": "Cell of LI-7000"}, {"time": "2007-01-12T02:01", "H": 3.2, "series": "Cell of LI-7000"}, {"time": "2007-01-12T02:50", "H": 6.3, "series": "Cell of LI-7000"}, {"time": "2007-01-12T03:39", "H": 0.6, "series": "Cell of LI-7000"}, {"time": "2007-01-12T04:59", "H": 0.6, "series": "Cell of LI-7000"}, {"time": "2007-01-12T06:04", "H": -0.2, "series": "Cell of LI-7000"}, {"time": "2007-01-12T07:15", "H": 1.1, "series": "Cell of LI-7000"}, {"time": "2007-01-12T08:14", "H": 0.6, "series": "Cell of LI-7000"}, {"time": "2007-01-12T09:19", "H": -0.2, "series": "Cell of LI-7000"}, {"time": "2007-01-12T10:16", "H": -1.5, "series": "Cell of LI-7000"}, {"time": "2007-01-12T11:12", "H": -17.0, "series": "Cell of LI-7000"}, {"time": "2007-01-12T12:00", "H": -23.5, "series": "Cell of LI-7000"}, {"time": "2007-01-12T12:49", "H": -1.5, "series": "Cell of LI-7000"}, {"time": "2007-01-12T13:22", "H": 3.7, "series": "Cell of LI-7000"}, {"time": "2007-01-12T14:10", "H": 1.1, "series": "Cell of LI-7000"}, {"time": "2007-01-12T15:14", "H": 2.4, "series": "Cell of LI-7000"}, {"time": "2007-01-12T16:19", "H": 1.7, "series": "Cell of LI-7000"}, {"time": "2007-01-12T17:08", "H": 4.3, "series": "Cell of LI-7000"}, {"time": "2007-01-12T18:13", "H": -0.2, "series": "Cell of LI-7000"}, {"time": "2007-01-12T19:18", "H": 1.1, "series": "Cell of LI-7000"}, {"time": "2007-01-12T20:23", "H": 1.7, "series": "Cell of LI-7000"}, {"time": "2007-01-12T21:17", "H": -2.7, "series": "Cell of LI-7000"}, {"time": "2007-01-12T22:16", "H": -7.9, "series": "Cell of LI-7000"}, {"time": "2007-01-12T23:15", "H": 1.1, "series": "Cell of LI-7000"}, {"time": "2007-01-13T00:26", "H": 2.4, "series": "Cell of LI-7000"}, {"time": "2007-01-13T01:31", "H": -0.2, "series": "Cell of LI-7000"}, {"time": "2007-01-13T02:35", "H": 1.1, "series": "Cell of LI-7000"}, {"time": "2007-01-13T03:56", "H": 1.9, "series": "Cell of LI-7000"}, {"time": "2007-01-13T04:45", "H": -1.5, "series": "Cell of LI-7000"}, {"time": "2007-01-13T05:50", "H": -2.7, "series": "Cell of LI-7000"}, {"time": "2007-01-13T06:55", "H": -1.5, "series": "Cell of LI-7000"}, {"time": "2007-01-13T07:59", "H": -2.7, "series": "Cell of LI-7000"}, {"time": "2007-01-13T09:04", "H": -0.2, "series": "Cell of LI-7000"}, {"time": "2007-01-13T10:09", "H": -1.5, "series": "Cell of LI-7000"}, {"time": "2007-01-13T11:14", "H": -2.7, "series": "Cell of LI-7000"}, {"time": "2007-01-13T12:20", "H": -1.5, "series": "Cell of LI-7000"}, {"time": "2007-01-13T14:24", "H": -2.7, "series": "Cell of LI-7000"}, {"time": "2007-01-13T15:50", "H": -1.5, "series": "Cell of LI-7000"}, {"time": "2007-01-13T18:00", "H": -0.5, "series": "Cell of LI-7000"}, {"time": "2007-01-13T19:12", "H": 1.5, "series": "Cell of LI-7000"}, {"time": "2007-01-13T21:36", "H": 2.5, "series": "Cell of LI-7000"}, {"time": "2007-01-14T00:58", "H": 3.0, "series": "Cell of LI-7000"}
          ]},
          "mark": {"type": "line", "invalid": "break-paths-filter-domains"},
          "encoding": {
            "x": {"field": "time", "type": "temporal",
                  "scale": {"domain": [{"year": 2007, "month": 1, "date": 11}, {"year": 2007, "month": 1, "date": 14}], "nice": false},
                  "axis": {"title": "Date", "titleX": 216, "titleY": 56, "titleBaseline": "alphabetic", "tickCount": 40,
                           "values": [
                             {"year": 2007, "month": 1, "date": 11, "hours": 0, "minutes": 0}, {"year": 2007, "month": 1, "date": 11, "hours": 4, "minutes": 48}, {"year": 2007, "month": 1, "date": 11, "hours": 9, "minutes": 36}, {"year": 2007, "month": 1, "date": 11, "hours": 14, "minutes": 24}, {"year": 2007, "month": 1, "date": 11, "hours": 19, "minutes": 12},
                             {"year": 2007, "month": 1, "date": 12, "hours": 0, "minutes": 0}, {"year": 2007, "month": 1, "date": 12, "hours": 4, "minutes": 48}, {"year": 2007, "month": 1, "date": 12, "hours": 9, "minutes": 36}, {"year": 2007, "month": 1, "date": 12, "hours": 14, "minutes": 24}, {"year": 2007, "month": 1, "date": 12, "hours": 19, "minutes": 12},
                             {"year": 2007, "month": 1, "date": 13, "hours": 0, "minutes": 0}, {"year": 2007, "month": 1, "date": 13, "hours": 4, "minutes": 48}, {"year": 2007, "month": 1, "date": 13, "hours": 9, "minutes": 36}, {"year": 2007, "month": 1, "date": 13, "hours": 14, "minutes": 24}, {"year": 2007, "month": 1, "date": 13, "hours": 19, "minutes": 12},
                             {"year": 2007, "month": 1, "date": 14, "hours": 0, "minutes": 0}
                           ],
                           "labelExpr": "hours(datum.value) == 0 && minutes(datum.value) == 0 ? timeFormat(datum.value, '%-m/%d/%y') : ''",
                           "labelFlush": false, "labelOverlap": false}},
            "y": {"field": "H", "type": "quantitative", "scale": {"domain": [-50, 150], "nice": false},
                  "axis": {"values": [-50, 0, 50, 100, 150], "title": "H (W m⁻²)", "titleX": -60, "titleY": 120, "titleBaseline": "alphabetic"}},
            "color": {"field": "series", "type": "nominal",
                      "scale": {"domain": ["Ambient", "Cell of LI-7000", "Cell of LI-7200"], "range": ["#999999", "#000000", "#000000"]},
                      "legend": {"title": null, "orient": "none", "legendX": 3, "legendY": -3, "symbolSize": 1681, "clipHeight": 22, "rowPadding": 6.5, "labelOffset": 6, "values": ["Ambient", "Cell of LI-7200", "Cell of LI-7000"]}},
            "strokeWidth": {"field": "series", "type": "nominal",
                      "scale": {"domain": ["Ambient", "Cell of LI-7000", "Cell of LI-7200"], "range": [2.5, 1]},
                      "legend": {"title": null, "orient": "none", "legendX": 3, "legendY": -3, "symbolSize": 1681, "clipHeight": 22, "rowPadding": 6.5, "labelOffset": 6, "values": ["Ambient", "Cell of LI-7200", "Cell of LI-7000"]}},
            "strokeDash": {"field": "series", "type": "nominal",
                      "scale": {"domain": ["Ambient", "Cell of LI-7000", "Cell of LI-7200"], "range": [[1, 0], [2, 2.5], [1, 0]]},
                      "legend": {"title": null, "orient": "none", "legendX": 3, "legendY": -3, "symbolSize": 1681, "clipHeight": 22, "rowPadding": 6.5, "labelOffset": 6, "values": ["Ambient", "Cell of LI-7200", "Cell of LI-7000"]}}
          }
        },
        {
          "data": {"values": [
            {"t1": "2007-01-12T01:04", "h1": 42.2, "t2": "2007-01-11T20:45", "h2": 31.0},
            {"t1": "2007-01-12T02:09", "h1": -15.7, "t2": "2007-01-11T21:41", "h2": -27.7},
            {"t1": "2007-01-12T17:41", "h1": -20.2, "t2": "2007-01-12T13:10", "h2": -31.3}
          ]},
          "mark": {"type": "rule", "color": "#000", "strokeWidth": 3},
          "encoding": {
            "x": {"field": "t1", "type": "temporal"},
            "x2": {"field": "t2"},
            "y": {"field": "h1", "type": "quantitative"},
            "y2": {"field": "h2"}
          }
        },
        {
          "data": {"values": [
            {"t": "2007-01-11T20:45", "h": 31.0},
            {"t": "2007-01-11T21:41", "h": -27.7},
            {"t": "2007-01-12T13:10", "h": -31.3}
          ]},
          "mark": {"type": "point", "shape": "triangle-up", "angle": 242, "filled": true, "color": "#000", "size": 130, "opacity": 1},
          "encoding": {
            "x": {"field": "t", "type": "temporal"},
            "y": {"field": "h", "type": "quantitative"}
          }
        }
      ]
    }
  ]
}
